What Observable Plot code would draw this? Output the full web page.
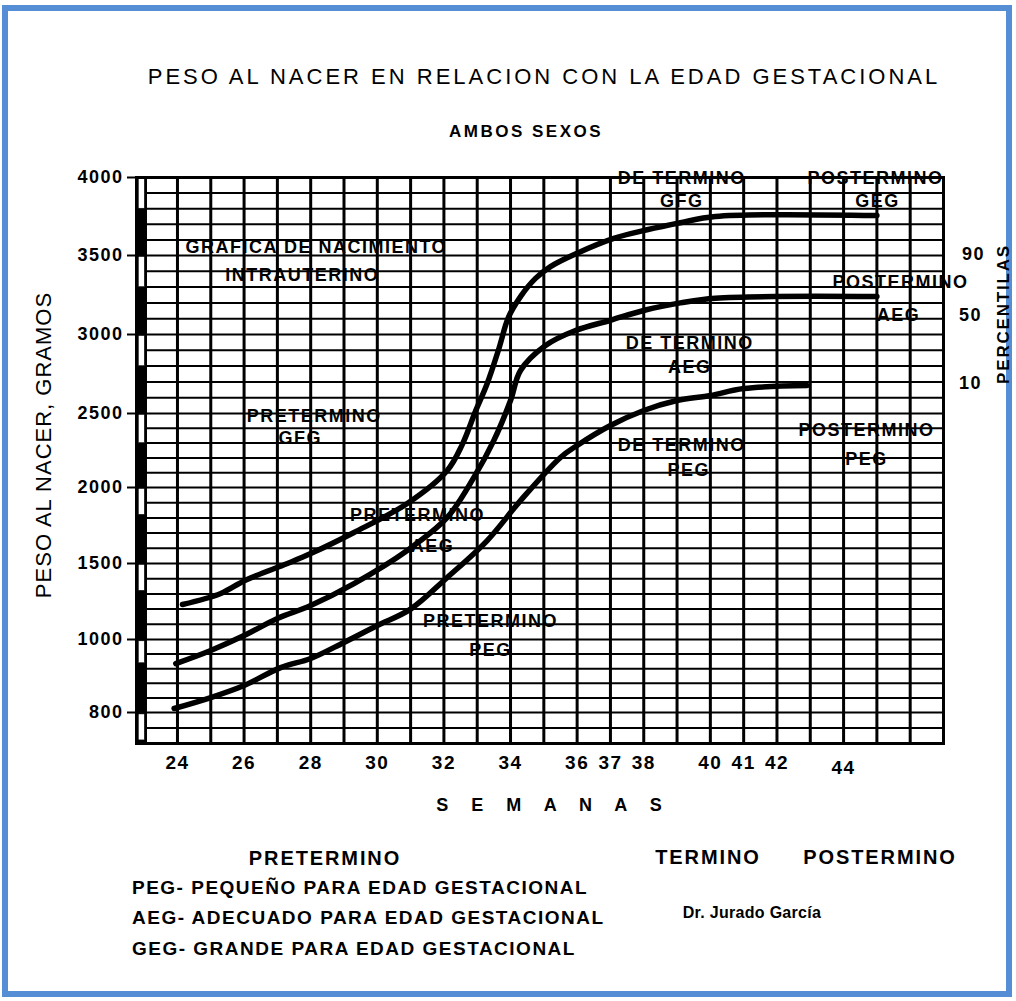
<!DOCTYPE html>
<html><head><meta charset="utf-8">
<script src="https://cdn.jsdelivr.net/npm/d3@7"></script>
<script src="https://cdn.jsdelivr.net/npm/@observablehq/plot@0.6"></script>
<style>
body{margin:0;background:#fff;}
#page{position:relative;width:1016px;height:1001px;overflow:hidden;font-family:"Liberation Sans",Arial,sans-serif;background:#fff;}
#page svg{position:absolute;left:0;top:0;}
#page svg text{letter-spacing:1.5px;}
.lbl{position:absolute;white-space:nowrap;color:#000;line-height:1;}
#frame{position:absolute;left:2px;top:5px;width:998px;height:980px;border:6px solid #558ed5;pointer-events:none;}
</style></head><body><div id="page"><div id="frame"></div></div>
<script>
// ---- data ----
const pegWeeks = [23.9, 25.0, 26.0, 27.1, 28.0, 29.0, 30.0, 31.0, 32.1, 33.3, 34.3, 35.5, 36.0, 37.0, 38.0, 39.0, 40.0, 41.0, 42.9];
const pegGrams = [811, 841, 874, 923, 948, 992, 1092, 1200, 1408, 1651, 1914, 2203, 2284, 2419, 2519, 2582, 2614, 2658, 2677];
const aegWeeks = [23.95, 25.0, 26.0, 27.0, 28.0, 29.3, 30.9, 32.1, 32.9, 33.5, 34.0, 34.3, 35.05, 35.95, 37.0, 38.05, 39.1, 40.15, 45.0];
const aegGrams = [934, 970, 1026, 1138, 1224, 1368, 1586, 1803, 2068, 2318, 2582, 2772, 2930, 3025, 3090, 3155, 3200, 3230, 3240];
const gegWeeks = [24.15, 25.3, 26.04, 27.3, 28.0, 29.3, 30.9, 32.1, 32.55, 32.95, 33.3, 33.65, 33.94, 34.3, 34.75, 35.2, 36.0, 37.1, 38.1, 39.1, 40.15, 45.0];
const gegGrams = [1230, 1303, 1390, 1500, 1565, 1704, 1895, 2115, 2290, 2515, 2690, 2910, 3110, 3240, 3355, 3430, 3515, 3610, 3665, 3710, 3750, 3756];

const yTicks = [800, 1000, 1500, 2000, 2500, 3000, 3500, 4000];
const xTicks = [24, 26, 28, 30, 32, 34, 36, 37, 38, 40, 41, 42];
const xTicksLow = [44];

const noteLabels = ["GRAFICA DE NACIMIENTO","INTRAUTERINO","PRETERMINO","GFG","PRETERMINO","AEG","PRETERMINO","PEG","DE TERMINO","GFG","POSTERMINO","GEG","POSTERMINO","AEG","DE TERMINO","AEG","POSTERMINO","PEG","DE TERMINO","PEG"];
const noteWeeks = [28.17, 27.75, 28.11, 27.69, 31.21, 31.66, 33.4, 33.4, 39.14, 39.14, 44.96, 45.02, 45.71, 45.65, 39.38, 39.38, 44.69, 44.69, 39.14, 39.35];
const noteGrams = [3551, 3378, 2480, 2331, 1816, 1612, 1118, 970, 3994, 3846, 3994, 3846, 3329, 3120, 2943, 2791, 2385, 2189, 2284, 2115];

const pctLabels = ["90", "50", "10"];
const pctWeeks = [47.9, 47.81, 47.81];
const pctGrams = [3506, 3120, 2690];

// strip of alternating bands on the left of the grid
const stripTop = [3990, 3490, 2990, 2490, 1990, 1490, 995, 795];
const stripBottom = [3800, 3300, 2800, 2300, 1820, 1320, 935, 728];

// grid structure
const gridWeeks = d3.range(24, 48);
const gridGrams = d3.range(1000, 4001, 100).concat(d3.range(720, 1000, 40));

// non-linear gram axis of the original sheet (grams -> axis units)
const gramStops = [720, 800, 1000, 1500, 2000, 2500, 3000, 3500, 4000];
const unitStops = [0, 31, 104, 180, 256, 330, 409, 488, 566];
const g2u = d3.scaleLinear().domain(gramStops).range(unitStops);

// ---- build ----
const series = [
  ...pegWeeks.map((w, i) => ({s: "PEG", w, g: pegGrams[i]})),
  ...aegWeeks.map((w, i) => ({s: "AEG", w, g: aegGrams[i]})),
  ...gegWeeks.map((w, i) => ({s: "GEG", w, g: gegGrams[i]}))
];
const notes = noteLabels.map((t, i) => ({t, w: noteWeeks[i], g: noteGrams[i]}));
const pcts = pctLabels.map((t, i) => ({t, w: pctWeeks[i], g: pctGrams[i]}));
const strip = stripTop.map((t, i) => ({t, b: stripBottom[i]}));
const Y = d => g2u(d.g);
const uMin = g2u(720), uMax = g2u(4000);

const chart = Plot.plot({
  width: 1016, height: 1001,
  marginLeft: 136, marginRight: 73, marginTop: 177, marginBottom: 258,
  style: {fontFamily: "Liberation Sans, Arial, sans-serif", background: "transparent", color: "#000", overflow: "visible"},
  x: {domain: [22.77, 47]},
  y: {domain: [uMin, uMax]},
  marks: [
    Plot.text(notes, {x: "w", y: Y, text: "t", fontSize: 18, fontWeight: "bold", fill: "#000"}),
    Plot.ruleY(gridGrams.map(g2u), {x1: 23.1, x2: 47, stroke: "#000", strokeWidth: 2}),
    Plot.ruleX(gridWeeks, {y1: uMin, y2: uMax, stroke: "#000", strokeWidth: 3}),
    Plot.rect([0], {x1: 22.77, x2: 23.1, y1: uMin, y2: uMax, fill: "#000"}),
    Plot.rect(strip, {x1: 22.84, x2: 23.02, y1: d => g2u(d.b), y2: d => g2u(d.t), fill: "#fff", stroke: "#000", strokeWidth: 0.5}),
    Plot.line(series, {x: "w", y: Y, z: "s", stroke: "#000", strokeWidth: 5.5, curve: "catmull-rom"}),
    Plot.frame({stroke: "#000", strokeWidth: 3}),
    Plot.axisY({ticks: yTicks.map(g2u), tickSize: 9, tickPadding: 4, fontSize: 18, fontWeight: "bold", strokeWidth: 2, label: null,
      tickFormat: u => String(Math.round(g2u.invert(u)))}),
    Plot.axisX({ticks: xTicks, tickSize: 0, tickPadding: 12, fontSize: 19, fontWeight: "bold", label: null}),
    Plot.axisX({ticks: xTicksLow, tickSize: 0, tickPadding: 17, fontSize: 19, fontWeight: "bold", label: null}),
    Plot.text(pcts, {x: "w", y: Y, text: "t", fontSize: 18, fontWeight: "bold", fill: "#000"})
  ]
});
const page = document.getElementById("page");
page.appendChild(chart);

// ---- surrounding texts ----
function label(text, cx, cy, size, weight, spacing, anchor = "middle") {
  const d = document.createElement("div");
  d.className = "lbl";
  d.textContent = text;
  d.style.fontSize = size + "px";
  d.style.fontWeight = weight;
  d.style.letterSpacing = spacing + "px";
  d.style.left = cx + "px";
  d.style.top = cy + "px";
  const tx = anchor === "middle" ? "-50%" : "0";
  d.style.transform = `translate(${tx},-50%)`;
  page.appendChild(d);
  return d;
}
label("PESO AL NACER EN RELACION CON LA EDAD GESTACIONAL", 544, 77, 22, "normal", 3);
label("AMBOS SEXOS", 526, 131, 17, "bold", 2.5);
const yl = label("PESO AL NACER, GRAMOS", 44, 445, 22, "normal", 1);
yl.style.transformOrigin = "center"; yl.style.transform = "translate(-50%,-50%) rotate(-90deg)";
const pl = label("PERCENTILAS", 1003, 314, 17, "bold", 1.8);
pl.style.transformOrigin = "center"; pl.style.transform = "translate(-50%,-50%) rotate(-90deg)";
label("S E M A N A S", 550, 805, 18, "bold", 2).style.wordSpacing = "14px";
label("PRETERMINO", 325, 858, 20, "bold", 1.9);
label("TERMINO", 708, 857, 20, "bold", 1.9);
label("POSTERMINO", 880, 857, 20, "bold", 1.9);
label("PEG- PEQUEÑO PARA EDAD GESTACIONAL", 132, 887, 19, "bold", 1.5, "start");
label("AEG- ADECUADO PARA EDAD GESTACIONAL", 132, 917, 19, "bold", 1.5, "start");
label("GEG- GRANDE PARA EDAD GESTACIONAL", 132, 948, 19, "bold", 1.5, "start");
label("Dr. Jurado García", 752, 913, 16, "bold", 0.3);
</script>
</body></html>
